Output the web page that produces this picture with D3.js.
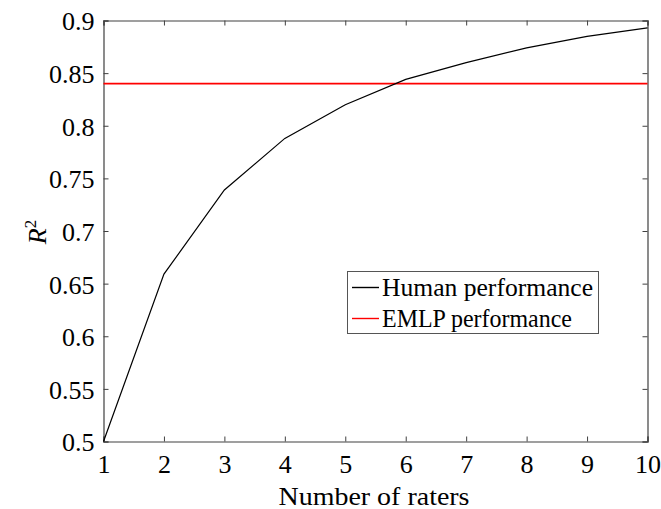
<!DOCTYPE html>
<html><head><meta charset="utf-8">
<script src="https://cdn.jsdelivr.net/npm/d3@7"></script>
<style>body{margin:0;background:#fff}</style>
</head><body><svg id="c" width="661" height="509"></svg>
<script>
const raters = [1,2,3,4,5,6,7,8,9,10];
const human = [0.5,0.659,0.739,0.788,0.820,0.844,0.860,0.874,0.885,0.893];
const emlp = [0.84,0.84,0.84,0.84,0.84,0.84,0.84,0.84,0.84,0.84];
const xTicks = [1,2,3,4,5,6,7,8,9,10];
const yTicks = [0.5,0.55,0.6,0.65,0.7,0.75,0.8,0.85,0.9];
const seriesNames = ["Human performance","EMLP performance"];
const seriesColors = ["#000000","#ff0000"];

const FONT="Liberation Serif";
const L=103.5,R=647.5,T=20.5,B=441.5;
const svg=d3.select("#c");
const x=d3.scaleLinear().domain([1,10]).range([L,R]);
const y=d3.scaleLinear().domain([0.5,0.9]).range([B,T]);
const ax="#404040";
const g=svg.append("g");
const xa=g.append("g").attr("transform",`translate(0,${B})`).call(d3.axisBottom(x).tickValues(xTicks).tickSize(-5).tickPadding(10).tickFormat(d3.format("d")));
const xt=g.append("g").attr("transform",`translate(0,${T})`).call(d3.axisTop(x).tickValues(xTicks).tickSize(-5).tickFormat(""));
const ya=g.append("g").attr("transform",`translate(${L},0)`).call(d3.axisLeft(y).tickValues(yTicks).tickSize(-5).tickPadding(9).tickFormat(d=>String(+d.toFixed(2))));
const yr=g.append("g").attr("transform",`translate(${R},0)`).call(d3.axisRight(y).tickValues(yTicks).tickSize(-5).tickFormat(""));
[xa,xt,ya,yr].forEach(a=>{a.attr("font-family",FONT).attr("font-size","26px");a.selectAll("path").attr("stroke",ax).attr("stroke-width",1.2);a.selectAll("line").attr("stroke",ax).attr("stroke-width",1);a.selectAll("text").attr("fill","#000");});
xa.selectAll("text").attr("y",31).attr("dy",0);
ya.selectAll("text").attr("dy","0.36em");
const line=d3.line().x((d,i)=>x(raters[i])).y(d=>y(d));
g.append("path").datum(emlp).attr("d",line).attr("fill","none").attr("stroke",seriesColors[1]).attr("stroke-width",1.6);
g.append("path").datum(human).attr("d",line).attr("fill","none").attr("stroke",seriesColors[0]).attr("stroke-width",1.2);
svg.append("text").attr("x",278.5).attr("y",505).attr("font-family",FONT).attr("font-size","25px").attr("textLength",191).attr("lengthAdjust","spacingAndGlyphs").text("Number of raters");
const yl=svg.append("text").attr("transform",`translate(46,232) rotate(-90)`).attr("text-anchor","middle").attr("font-family",FONT).attr("font-size","26px");
yl.append("tspan").attr("font-style","italic").text("R");
yl.append("tspan").attr("dy","-10").attr("font-size","17px").text("2");
const lg=svg.append("g");
lg.append("rect").attr("x",347.5).attr("y",271.5).attr("width",251).attr("height",62).attr("fill","#fff").attr("stroke","#555").attr("stroke-width",1);
const lens=[211,190];
seriesNames.forEach((n,i)=>{
  const yy=287.5+i*31;
  lg.append("line").attr("x1",352).attr("x2",379).attr("y1",yy).attr("y2",yy).attr("stroke",seriesColors[i]).attr("stroke-width",1.4);
  lg.append("text").attr("x",382).attr("y",yy+8).attr("font-family",FONT).attr("font-size","25px").attr("textLength",lens[i]).attr("lengthAdjust","spacingAndGlyphs").text(n);
});
</script></body></html>
